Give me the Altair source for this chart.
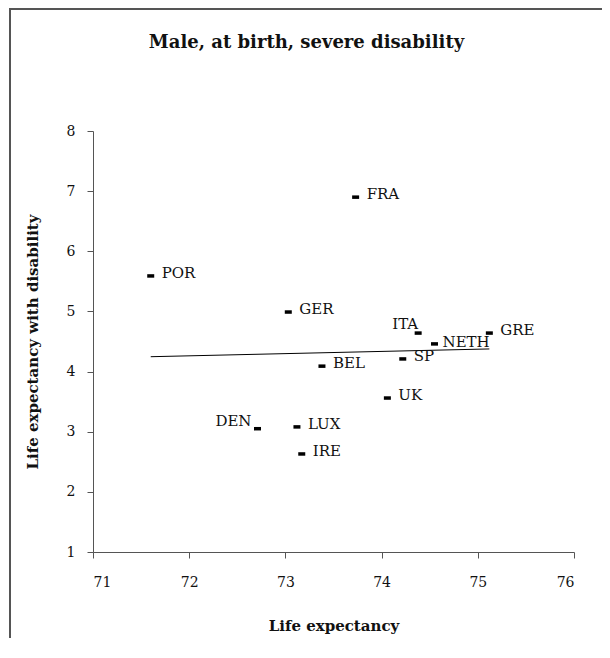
import altair as alt
import pandas as pd

countries = ["POR", "FRA", "GER", "ITA", "NETH", "GRE", "SP", "BEL", "UK", "LUX", "IRE", "DEN"]
life_exp = [71.60, 73.73, 73.03, 74.38, 74.55, 75.12, 74.22, 73.38, 74.06, 73.12, 73.17, 72.71]
disab_exp = [5.59, 6.90, 4.99, 4.64, 4.46, 4.64, 4.21, 4.09, 3.56, 3.08, 2.63, 3.05]
x_ticks = [71, 72, 73, 74, 75, 76]
y_ticks = [1, 2, 3, 4, 5, 6, 7, 8]

df = pd.DataFrame({"country": countries, "life": life_exp, "disab": disab_exp})

FONT = "DejaVu Serif"
INK = "#111111"

xs = alt.Scale(domain=[71, 76], nice=False, zero=False)
ys = alt.Scale(domain=[1, 8], nice=False, zero=False)

x_enc = alt.X("life:Q", scale=xs, axis=alt.Axis(
    values=x_ticks, title="Life expectancy", grid=False, format="d",
    tickSize=6, labelPadding=17, titlePadding=29,
    labelFont=FONT, labelFontSize=14, labelColor=INK,
    titleFont=FONT, titleFontSize=15, titleFontWeight="bold", titleColor=INK,
    domainColor="#555555", tickColor="#555555"))
y_enc = alt.Y("disab:Q", scale=ys, axis=alt.Axis(
    values=y_ticks, title="Life expectancy with disability", grid=False, format="d",
    tickSize=6, labelPadding=12, titlePadding=26,
    labelFont=FONT, labelFontSize=14, labelColor=INK,
    titleFont=FONT, titleFontSize=15, titleFontWeight="bold", titleColor=INK,
    domainColor="#555555", tickColor="#555555"))

base = alt.Chart(df)
one = pd.DataFrame({"k": [0]})

frame_left = alt.Chart(one).mark_rect(color="#555555", clip=False).encode(
    x=alt.value(-84), x2=alt.value(-82), y=alt.value(-123), y2=alt.value(510))
frame_top = alt.Chart(one).mark_rect(color="#555555", clip=False).encode(
    x=alt.value(-84), x2=alt.value(512), y=alt.value(-123), y2=alt.value(-121))

trend = base.transform_regression("life", "disab").mark_line(
    color="black", strokeWidth=1
).encode(x=x_enc, y=y_enc)

points = base.mark_point(
    shape="M-1,-0.5L1,-0.5L1,0.5L-1,0.5Z", size=49, filled=True,
    color="black", opacity=1
).encode(x=x_enc, y=y_enc)

txt_style = dict(font=FONT, fontSize=15, color=INK, baseline="middle")

labels_main = base.transform_filter(
    ~alt.FieldOneOfPredicate(field="country", oneOf=["ITA", "DEN", "NETH"])
).mark_text(align="left", dx=11, dy=-3, **txt_style).encode(x=x_enc, y=y_enc, text="country:N")

labels_neth = base.transform_filter(
    alt.FieldEqualPredicate(field="country", equal="NETH")
).mark_text(align="left", dx=8, dy=-2, **txt_style).encode(x=x_enc, y=y_enc, text="country:N")

labels_ita = base.transform_filter(
    alt.FieldEqualPredicate(field="country", equal="ITA")
).mark_text(align="right", dx=0, dy=-9, **txt_style).encode(x=x_enc, y=y_enc, text="country:N")

labels_den = base.transform_filter(
    alt.FieldEqualPredicate(field="country", equal="DEN")
).mark_text(align="right", dx=-6, dy=-8, **txt_style).encode(x=x_enc, y=y_enc, text="country:N")

chart = alt.layer(frame_left, frame_top, trend, points, labels_main, labels_neth, labels_ita, labels_den).properties(
    width=481, height=421,
    title=alt.TitleParams("Male, at birth, severe disability", font=FONT, fontSize=18,
                          fontWeight="bold", color=INK, anchor="middle", offset=0, dy=44, dx=-27),
    autosize=alt.AutoSizeParams(type="none"),
    padding={"left": 85, "top": 123, "right": 28, "bottom": 86},
).configure_view(stroke=None)

chart.save("out.html", embed_options={"renderer": "svg", "actions": False})
